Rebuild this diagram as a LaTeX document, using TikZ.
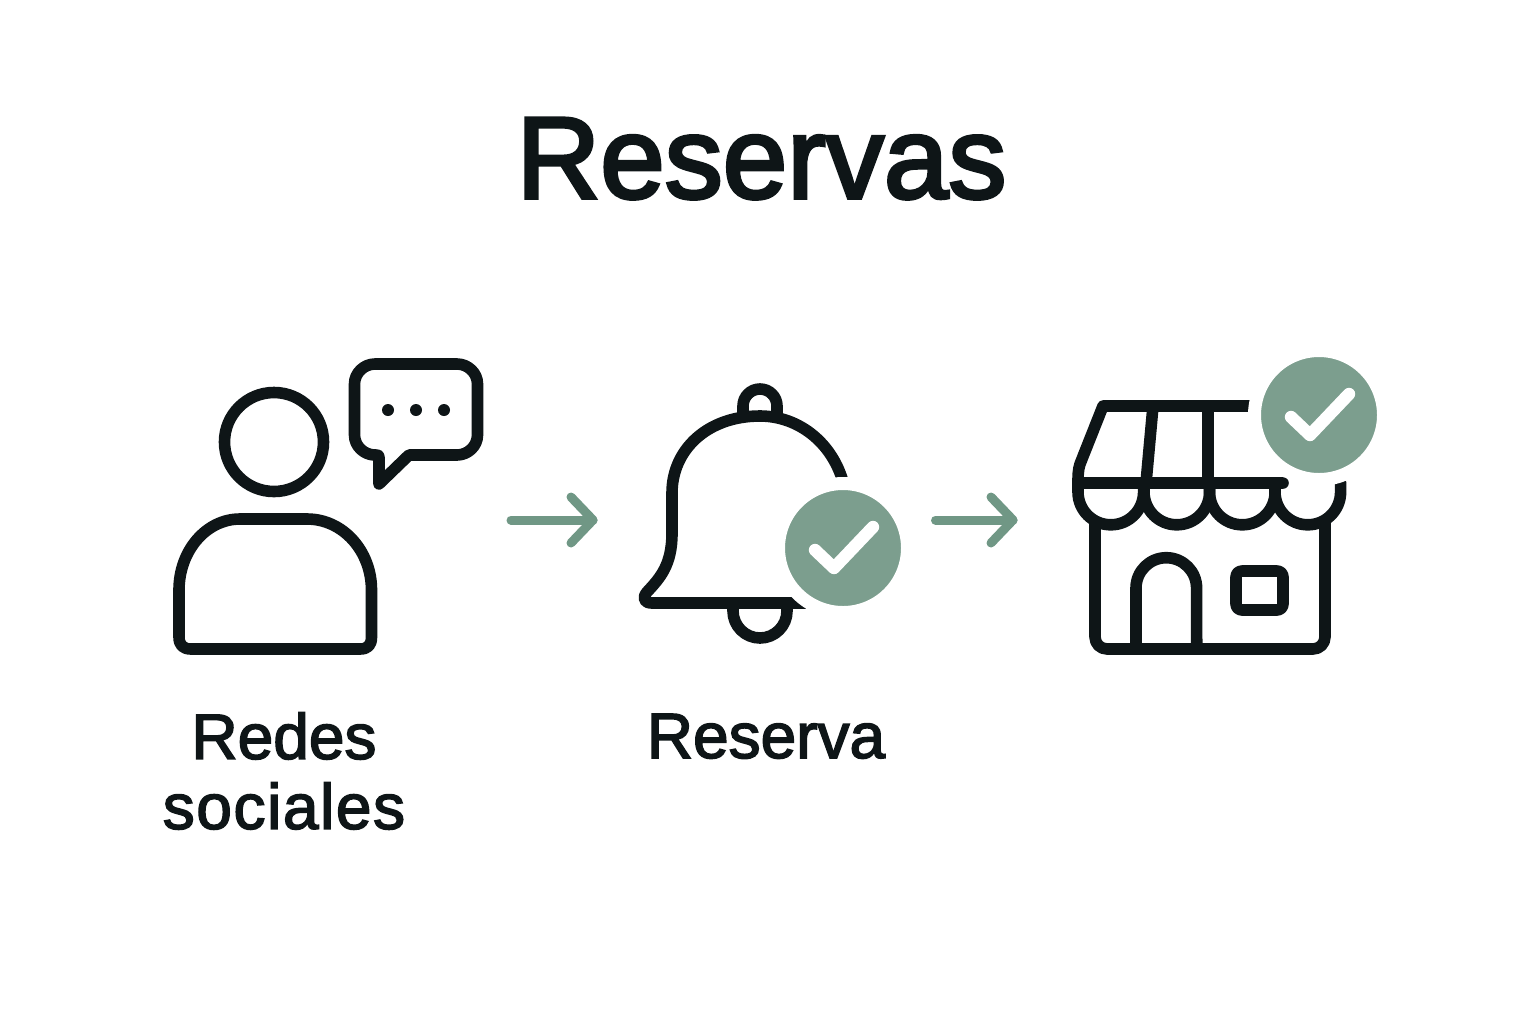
\documentclass[tikz,border=0pt]{standalone}
\usepackage{fontspec}
\setmainfont{Liberation Sans}
\newfontfamily\titlefont[FakeBold=3]{Liberation Sans}
\newfontfamily\labelfont[FakeBold=2.4]{Liberation Sans}
\definecolor{inkdark}{HTML}{0E1517}
\definecolor{sage}{HTML}{7C9E8E}
\definecolor{sagearrow}{HTML}{709785}
\tikzset{
	iconline/.style={draw=inkdark,line width=5.8pt,line join=round,line cap=round},
	badge/.style={circle,fill=sage,draw=white,line width=6.5pt,minimum size=64.5pt,inner sep=0pt},
	tickmark/.style={draw=white,line width=6.2pt,line cap=round,line join=round},
	flowarrow/.style={draw=sagearrow,line width=4.5pt,line cap=round,line join=round},
	titletext/.style={font=\titlefont\fontsize{58}{64}\selectfont,text=inkdark,anchor=base},
	labeltext/.style={font=\labelfont\fontsize{32}{35}\selectfont,text=inkdark,align=center}
}
\begin{document}
\begin{tikzpicture}[x=0.5pt,y=-0.5pt]
	\useasboundingbox (0,0) rectangle (1536,1024);
	\node[titletext] (title) at (761.5,198) {Reservas};
	% person and speech bubble
	\draw[iconline] (274,442) circle (49.5);
	\draw[iconline] (240,519) -- (307,519) .. controls (343,519) and (371.5,551) .. (371.5,590) -- (371.5,637) .. controls (371.5,645) and (368,649) .. (360,649) -- (191,649) .. controls (183,649) and (179,645) .. (179,637) -- (179,590) .. controls (179,551) and (206,519) .. (240,519) -- cycle;
	\draw[iconline] (375,364) -- (457,364) .. controls (468,364) and (477.5,373) .. (477.5,384) -- (477.5,435) .. controls (477.5,446) and (468,455) .. (457,455) -- (409,455) -- (379,484) -- (379,457) .. controls (379,455.5) and (378,455) .. (376,455) -- (375,455) .. controls (364,455) and (354.5,446) .. (354.5,435) -- (354.5,384) .. controls (354.5,373) and (364,364) .. (375,364) -- cycle;
	\foreach \x in {388,416,444} \fill[inkdark] (\x,410) circle (6);
	% bell
	\draw[iconline] (743,413) -- (743,406) arc (180:360:17) -- (777,413);
	\draw[iconline] (733,604) -- (733,611) arc (180:0:27) -- (787,604);
	\draw[iconline] (672,493) .. controls (672,450) and (707,416) .. (760,416) .. controls (800,416) and (836,445) .. (845,490) -- (848,533) .. controls (848,565) and (860,578) .. (873,592) .. controls (878,598) and (876,603) .. (868,603) -- (652,603) .. controls (644,603) and (642,598) .. (647,592) .. controls (660,578) and (672,565) .. (672,533) -- cycle;
	\node[badge] (bellcheck) at (843,548) {};
	\draw[tickmark] ([shift={(-28,2)}]bellcheck.center) -- ([shift={(-9,20)}]bellcheck.center) -- ([shift={(30,-21)}]bellcheck.center);
	% shop
	\draw[iconline,rounded corners=6pt] (1095,523) -- (1095,649) -- (1325,649) -- (1325,523);
	\draw[iconline] (1136,649) -- (1136,588) arc (180:360:30.3) -- (1196.7,649);
	\draw[iconline,rounded corners=3pt] (1236,571) rectangle (1283,610);
	\draw[iconline] (1300,406) -- (1103,406) -- (1080,464) .. controls (1078,470) and (1078,476) .. (1078,483) -- (1283,483);
	\draw[iconline] (1153,406) -- (1146,483);
	\draw[iconline] (1208,406) -- (1208,483);
	\foreach \x in {1078,1144,1209.5,1275} \draw[iconline] (\x,483) -- (\x,492) arc (180:0:32.8) -- ++(0,-9);
	\node[badge] (shopcheck) at (1319,415) {};
	\draw[tickmark] ([shift={(-28,2)}]shopcheck.center) -- ([shift={(-9,20)}]shopcheck.center) -- ([shift={(30,-21)}]shopcheck.center);
	% arrows
	\coordinate (first) at (511,520);
	\coordinate (firsthead) at (593,520);
	\coordinate (second) at (935.5,520);
	\coordinate (secondhead) at (1013,520);
	\draw[flowarrow] (first) -- (firsthead);
	\draw[flowarrow] ([shift={(-22,-23)}]firsthead) -- (firsthead) -- ([shift={(-22,23)}]firsthead);
	\draw[flowarrow] (second) -- (secondhead);
	\draw[flowarrow] ([shift={(-22,-23)}]secondhead) -- (secondhead) -- ([shift={(-22,23)}]secondhead);
	% labels
	\node[labeltext] (redes) at (284,771) {Redes\\{\addfontfeature{LetterSpace=2.5}sociales}};
	\node[labeltext,anchor=base] (reserva) at (766,758) {Reserva};
\end{tikzpicture}
\end{document}
